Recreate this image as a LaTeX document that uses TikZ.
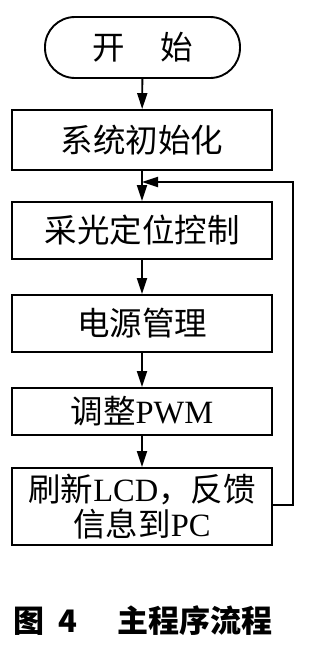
\documentclass[tikz,border=0pt]{standalone}
\usepackage{fontspec}
\setmainfont{Liberation Serif}
\newfontfamily\cjk{Noto Sans CJK SC}
\newfontfamily\capfont{Noto Sans CJK SC}
\usetikzlibrary{arrows.meta}
\begin{document}
\begin{tikzpicture}[x=1pt,y=-1pt,
  box/.style={draw,line width=1.9pt,minimum width=260pt,inner sep=0pt,align=center,font=\fontsize{32.5}{35}\selectfont},
  arr/.style={line width=1.9pt,-{Triangle[length=16pt,width=10pt]}}]
\useasboundingbox (0,0) rectangle (309,648);
\node[box,rounded corners=30pt,minimum width=195pt,minimum height=61pt] (s) at (142.5,47.5) {\cjk 开\hspace{1.1em}始};
\node[box,minimum height=60pt] (b1) at (142,140) {\cjk 系统初始化};
\node[box,minimum height=57pt] (b2) at (142,230.5) {\cjk 采光定位控制};
\node[box,minimum height=57pt] (b3) at (142,323.5) {\cjk 电源管理};
\node[box,minimum height=47pt] (b4) at (142,411.5) {{\cjk 调整}PWM};
\node[box,minimum height=77pt] (b5) at (142,506.5) {{\cjk 刷新}LCD{\cjk ，反馈}\\{\cjk 信息到}PC};
\coordinate (j) at (142,182);
\coordinate (r1) at (293,505);
\coordinate (r2) at (293,182);
\draw[arr] (s) -- (b1);
\draw[arr] (b1) -- (b2);
\draw[arr] (b2) -- (b3);
\draw[arr] (b3) -- (b4);
\draw[arr] (b4) -- (b5);
\draw[arr] (b5.east |- r1) -- (r1) -- (r2) -- (j);
\node[anchor=west,inner sep=0pt,font=\fontsize{31}{32}\selectfont\bfseries] (cap) at (13,621) {\capfont 图\hspace{0.45em}4\hspace{1.3em}主程序流程};
\end{tikzpicture}
\end{document}
